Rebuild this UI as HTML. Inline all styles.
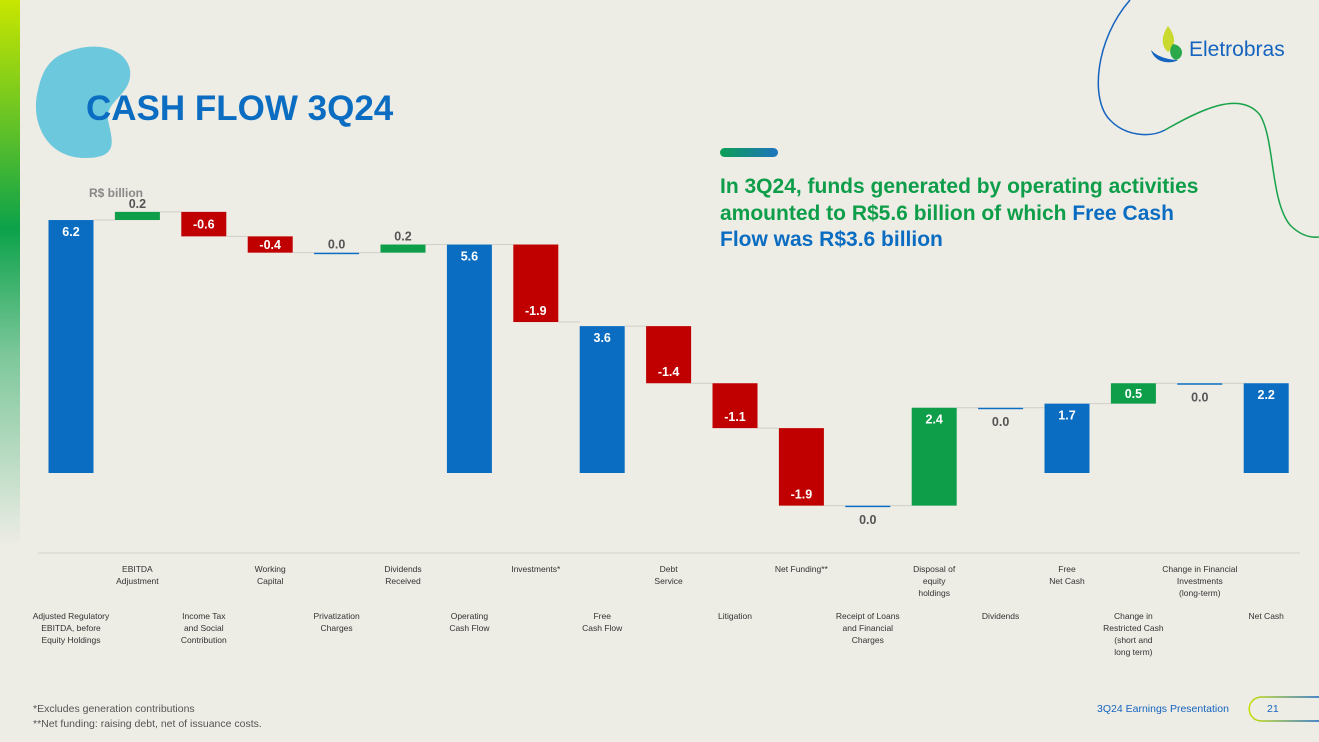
<!DOCTYPE html>
<html><head><meta charset="utf-8"><style>
html,body{margin:0;padding:0}
body{width:1319px;height:742px;background:#EDECE5;position:relative;overflow:hidden;font-family:"Liberation Sans",sans-serif}
.abs{position:absolute}
.cat{position:absolute;font-size:8.5px;color:#333;text-align:center;line-height:12px;width:100px;white-space:pre-line}
</style></head><body>
<div class="abs" style="left:0;top:0;width:20px;height:545px;background:linear-gradient(#C8E600 0%,#5BBF2A 25%,#0CA24A 42%,#7CC79A 65%,#EDECE5 100%)"></div>
<svg class="abs" style="left:0;top:0" width="1319" height="742">
  <path d="M60,55 C90,40 125,45 130,70 C133,95 105,100 108,120 C112,140 120,158 85,158 C45,158 30,120 38,90 C42,72 48,62 60,55Z" fill="#6CC8DC"/>
  <path d="M1130,0 C1095,40 1090,100 1110,120 C1125,136 1150,138 1165,130" fill="none" stroke="#1565C0" stroke-width="1.5"/>
  <path d="M1165,130 C1200,110 1240,90 1260,115 C1275,140 1270,200 1290,225 C1300,235 1310,238 1319,237" fill="none" stroke="#18A34A" stroke-width="1.5"/>
  <path d="M1168,26 C1162,35 1160,45 1168,52 C1176,46 1176,36 1168,26Z" fill="#C9D92E"/>
  <path d="M1173,44 C1185,46 1184,58 1176,60 C1170,58 1168,50 1173,44Z" fill="#2BA84A"/>
  <path d="M1151,50 C1158,58 1172,60 1178,60 C1172,64 1155,64 1151,50Z" fill="#1565C0"/>
  <defs><linearGradient id="pg" x1="0" x2="1"><stop offset="0" stop-color="#0D9F55"/><stop offset="1" stop-color="#1E73BE"/></linearGradient>
  <linearGradient id="pill" x1="0" x2="1"><stop offset="0" stop-color="#C8E000"/><stop offset="1" stop-color="#1565C0"/></linearGradient></defs>
  <rect x="720" y="148" width="58" height="9" rx="4.5" fill="url(#pg)"/>
  <path d="M1319,697 L1262,697 C1245,697 1245,721 1262,721 L1319,721" fill="none" stroke="url(#pill)" stroke-width="1.5"/>
</svg>
<div class="abs" style="left:1189px;top:38px;font-size:21px;color:#1565C0">Eletrobras</div>
<div class="abs" style="left:86px;top:89px;font-size:35px;font-weight:bold;color:#0A6DC2">CASH FLOW 3Q24</div>
<div class="abs" style="left:720px;top:174px;font-size:21px;font-weight:bold;line-height:26.5px;color:#0E9E4A">In 3Q24, funds generated by operating activities<br>amounted to R$5.6 billion of which <span style="color:#0A6DC2">Free Cash</span><br><span style="color:#0A6DC2">Flow was R$3.6 billion</span></div>
<div class="abs" style="left:89px;top:186px;font-size:12px;font-weight:bold;color:#888">R$ billion</div>
<svg id="chart" class="abs" style="left:0;top:0" width="1319" height="742"></svg>
<div id="cats"></div>
<div class="abs" style="left:33px;top:703px;font-size:10.5px;color:#555">*Excludes generation contributions</div>
<div class="abs" style="left:33px;top:718px;font-size:10.5px;color:#555">**Net funding: raising debt, net of issuance costs.</div>
<div class="abs" style="left:1097px;top:703px;font-size:10.5px;color:#1565C0">3Q24 Earnings Presentation</div>
<div class="abs" style="left:1267px;top:703px;font-size:10.5px;color:#1565C0">21</div>
<script>
const categories=["Adjusted Regulatory\nEBITDA, before\nEquity Holdings","EBITDA\nAdjustment","Income Tax\nand Social\nContribution","Working\nCapital","Privatization\nCharges","Dividends\nReceived","Operating\nCash Flow","Investments*","Free\nCash Flow","Debt\nService","Litigation","Net Funding**","Receipt of Loans\nand Financial\nCharges","Disposal of\nequity\nholdings","Dividends","Free\nNet Cash","Change in\nRestricted Cash\n(short and\nlong term)","Change in Financial\nInvestments\n(long-term)","Net Cash"];
const values=[6.2,0.2,-0.6,-0.4,0.0,0.2,5.6,-1.9,3.6,-1.4,-1.1,-1.9,0.0,2.4,0.0,1.7,0.5,0.0,2.2];
const isTotal=[1,0,0,0,0,0,1,0,1,0,0,0,0,0,0,1,0,0,1];
const valueLabels=["6.2","0.2","-0.6","-0.4","0.0","0.2","5.6","-1.9","3.6","-1.4","-1.1","-1.9","0.0","2.4","0.0","1.7","0.5","0.0","2.2"];
const labelPos=["in","above","in","in","above","above","in","in","in","in","in","in","below","in","below","in","in","below","in"];
const svg=document.getElementById('chart');const NS='http://www.w3.org/2000/svg';
const baseY=473,scale=40.8,x0=71,step=66.4,bw=45;
const yS=v=>baseY-v*scale;const xS=i=>x0+i*step;
function mk(t,a){const e=document.createElementNS(NS,t);for(const k in a)e.setAttribute(k,a[k]);svg.appendChild(e);return e;}
const ax=mk('line',{x1:38,x2:1300,y1:553,y2:553,stroke:'#D5D4CC','stroke-width':1});


let level=0,prevEnd=null;
values.forEach((v,i)=>{
  let a,b,col;
  if(isTotal[i]){a=0;b=v;col='#0A6DC2';}else{a=level;b=level+v;col=v<0?'#C00000':(v>0?'#0E9E4A':'#0A6DC2');}
  level=b;
  const top=Math.min(yS(a),yS(b));let h=Math.abs(yS(a)-yS(b));if(h<1.5)h=1.5;
  const cx=xS(i);
  if(prevEnd!==null){const c=mk('line',{x1:cx-step+bw/2,x2:cx-bw/2,y1:yS(prevEnd),y2:yS(prevEnd),stroke:'#CFCFC8','stroke-width':1});
    
    }
  prevEnd=b;
  const r=mk('rect',{x:cx-bw/2,y:top,width:bw,height:h,fill:col});
  
  
  let ly,fc='#fff';const p=labelPos[i];
  if(p==='above'){ly=top-4;fc='#555';}
  else if(p==='below'){ly=top+h+17;fc='#555';}
  else if(h<32){ly=top+h/2+4.5;}
  else if(v<0&&!isTotal[i]){ly=top+h-7;}
  else{ly=top+16;}
  const t=mk('text',{x:cx,y:ly,'text-anchor':'middle','font-size':12.5,'font-weight':'bold',fill:fc,'font-family':'Liberation Sans, sans-serif'});
  t.textContent=valueLabels[i];
  
  
});
const cats=document.getElementById('cats');
categories.forEach((c,i)=>{const d=document.createElement('div');d.className='cat';
  d.style.left=(xS(i)-50)+'px';d.style.top=(i%2?563:610)+'px';d.textContent=c;
  
  
  cats.appendChild(d);});
</script>
</body></html>
